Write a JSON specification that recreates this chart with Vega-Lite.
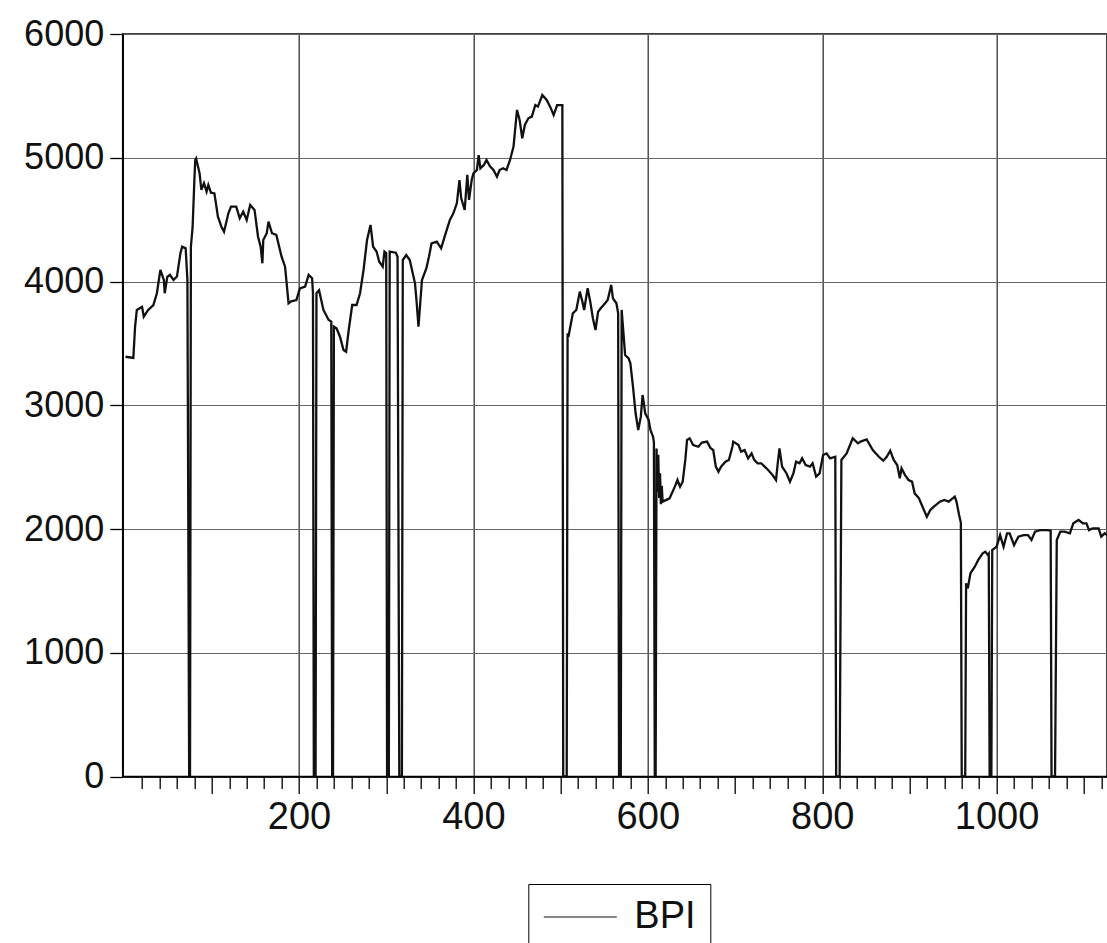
{
  "$schema": "https://vega.github.io/schema/vega-lite/v6.json",
  "width": 984.3,
  "height": 742.5,
  "autosize": {"type": "none"},
  "padding": {"left": 122.7, "top": 34, "right": 0, "bottom": 166.5},
  "background": "#ffffff",
  "config": {
    "view": {"stroke": "#000000", "strokeWidth": 1.5},
    "font": "Liberation Sans"
  },
  "data": {
    "values": [
      {"i": 1, "v": 3392}, {"i": 10, "v": 3382}, {"i": 12, "v": 3635}, {"i": 14, "v": 3770},
      {"i": 20, "v": 3796}, {"i": 22, "v": 3716}, {"i": 27, "v": 3770}, {"i": 33, "v": 3810},
      {"i": 37, "v": 3905}, {"i": 41, "v": 4093}, {"i": 45, "v": 4012}, {"i": 46, "v": 3905},
      {"i": 49, "v": 4039}, {"i": 52, "v": 4053}, {"i": 56, "v": 4012}, {"i": 60, "v": 4040},
      {"i": 64, "v": 4228}, {"i": 66, "v": 4281}, {"i": 70, "v": 4268}, {"i": 72, "v": 4012},
      {"i": 73, "v": 2100}, {"i": 74, "v": 0}, {"i": 75, "v": 0}, {"i": 76, "v": 4281},
      {"i": 78, "v": 4443}, {"i": 80, "v": 4820}, {"i": 81, "v": 4982}, {"i": 82, "v": 4995},
      {"i": 86, "v": 4874}, {"i": 88, "v": 4740}, {"i": 91, "v": 4794}, {"i": 94, "v": 4726},
      {"i": 96, "v": 4780}, {"i": 99, "v": 4718}, {"i": 103, "v": 4712}, {"i": 107, "v": 4524},
      {"i": 111, "v": 4443}, {"i": 114, "v": 4402}, {"i": 119, "v": 4551}, {"i": 122, "v": 4605},
      {"i": 128, "v": 4605}, {"i": 132, "v": 4511}, {"i": 136, "v": 4564}, {"i": 140, "v": 4497},
      {"i": 144, "v": 4618}, {"i": 149, "v": 4578}, {"i": 153, "v": 4362}, {"i": 156, "v": 4281},
      {"i": 158, "v": 4147}, {"i": 159, "v": 4335}, {"i": 163, "v": 4390}, {"i": 165, "v": 4484},
      {"i": 169, "v": 4390}, {"i": 174, "v": 4376}, {"i": 180, "v": 4200}, {"i": 184, "v": 4120},
      {"i": 188, "v": 3824}, {"i": 191, "v": 3840}, {"i": 197, "v": 3850}, {"i": 201, "v": 3945},
      {"i": 207, "v": 3958}, {"i": 211, "v": 4053}, {"i": 215, "v": 4026}, {"i": 216, "v": 3905},
      {"i": 217, "v": 0}, {"i": 219, "v": 0}, {"i": 220, "v": 3905}, {"i": 223, "v": 3930},
      {"i": 228, "v": 3770}, {"i": 234, "v": 3689}, {"i": 237, "v": 3676}, {"i": 238, "v": 0},
      {"i": 239, "v": 0}, {"i": 240, "v": 3635}, {"i": 243, "v": 3622}, {"i": 247, "v": 3554},
      {"i": 251, "v": 3447}, {"i": 254, "v": 3433}, {"i": 257, "v": 3608}, {"i": 261, "v": 3810},
      {"i": 266, "v": 3810}, {"i": 270, "v": 3905}, {"i": 274, "v": 4093}, {"i": 278, "v": 4335},
      {"i": 282, "v": 4457}, {"i": 285, "v": 4281}, {"i": 289, "v": 4241}, {"i": 292, "v": 4160},
      {"i": 296, "v": 4120}, {"i": 298, "v": 4241}, {"i": 300, "v": 4228}, {"i": 301, "v": 0},
      {"i": 303, "v": 0}, {"i": 304, "v": 4241}, {"i": 311, "v": 4233}, {"i": 313, "v": 4200},
      {"i": 315, "v": 0}, {"i": 318, "v": 0}, {"i": 319, "v": 4174}, {"i": 323, "v": 4214},
      {"i": 327, "v": 4174}, {"i": 333, "v": 3985}, {"i": 335, "v": 3824}, {"i": 337, "v": 3635},
      {"i": 339, "v": 3824}, {"i": 341, "v": 4012}, {"i": 346, "v": 4106}, {"i": 349, "v": 4200},
      {"i": 352, "v": 4308}, {"i": 358, "v": 4322}, {"i": 363, "v": 4268}, {"i": 367, "v": 4362},
      {"i": 373, "v": 4497}, {"i": 377, "v": 4551}, {"i": 381, "v": 4632}, {"i": 384, "v": 4820},
      {"i": 386, "v": 4672}, {"i": 390, "v": 4578}, {"i": 393, "v": 4861}, {"i": 395, "v": 4659},
      {"i": 398, "v": 4820}, {"i": 400, "v": 4874}, {"i": 404, "v": 4901}, {"i": 406, "v": 5022},
      {"i": 408, "v": 4915}, {"i": 412, "v": 4942}, {"i": 415, "v": 4982}, {"i": 419, "v": 4930},
      {"i": 423, "v": 4901}, {"i": 427, "v": 4847}, {"i": 430, "v": 4901}, {"i": 434, "v": 4915},
      {"i": 438, "v": 4901}, {"i": 442, "v": 4982}, {"i": 446, "v": 5090}, {"i": 450, "v": 5386},
      {"i": 453, "v": 5305}, {"i": 456, "v": 5157}, {"i": 459, "v": 5265}, {"i": 463, "v": 5319},
      {"i": 467, "v": 5332}, {"i": 471, "v": 5426}, {"i": 474, "v": 5413}, {"i": 479, "v": 5507},
      {"i": 484, "v": 5467}, {"i": 488, "v": 5413}, {"i": 492, "v": 5345}, {"i": 496, "v": 5426},
      {"i": 502, "v": 5426}, {"i": 503, "v": 0}, {"i": 507, "v": 0}, {"i": 508, "v": 3581},
      {"i": 509, "v": 3554}, {"i": 514, "v": 3743}, {"i": 518, "v": 3770}, {"i": 522, "v": 3918},
      {"i": 525, "v": 3837}, {"i": 527, "v": 3770}, {"i": 531, "v": 3945}, {"i": 534, "v": 3837},
      {"i": 537, "v": 3703}, {"i": 540, "v": 3608}, {"i": 543, "v": 3756}, {"i": 546, "v": 3783},
      {"i": 551, "v": 3824}, {"i": 554, "v": 3850}, {"i": 558, "v": 3972}, {"i": 560, "v": 3864},
      {"i": 564, "v": 3824}, {"i": 566, "v": 3743}, {"i": 567, "v": 0}, {"i": 569, "v": 0},
      {"i": 570, "v": 3770}, {"i": 574, "v": 3406}, {"i": 578, "v": 3379}, {"i": 580, "v": 3339},
      {"i": 583, "v": 3150}, {"i": 586, "v": 2935}, {"i": 589, "v": 2800}, {"i": 592, "v": 2908},
      {"i": 594, "v": 3083}, {"i": 596, "v": 2988}, {"i": 597, "v": 2935}, {"i": 601, "v": 2881},
      {"i": 603, "v": 2800}, {"i": 606, "v": 2746}, {"i": 607, "v": 2700}, {"i": 608, "v": 0},
      {"i": 609, "v": 0}, {"i": 610, "v": 2650}, {"i": 611, "v": 2300}, {"i": 612, "v": 2600},
      {"i": 613, "v": 2250}, {"i": 614, "v": 2450}, {"i": 615, "v": 2200}, {"i": 616, "v": 2350},
      {"i": 617, "v": 2221}, {"i": 625, "v": 2248}, {"i": 631, "v": 2342}, {"i": 634, "v": 2396},
      {"i": 637, "v": 2342}, {"i": 640, "v": 2382}, {"i": 643, "v": 2558}, {"i": 645, "v": 2719},
      {"i": 648, "v": 2733}, {"i": 652, "v": 2679}, {"i": 658, "v": 2665}, {"i": 662, "v": 2698},
      {"i": 668, "v": 2706}, {"i": 672, "v": 2652}, {"i": 675, "v": 2638}, {"i": 678, "v": 2504},
      {"i": 681, "v": 2463}, {"i": 684, "v": 2504}, {"i": 689, "v": 2544}, {"i": 693, "v": 2558},
      {"i": 697, "v": 2665}, {"i": 698, "v": 2706}, {"i": 704, "v": 2679}, {"i": 707, "v": 2625},
      {"i": 711, "v": 2638}, {"i": 715, "v": 2571}, {"i": 719, "v": 2611}, {"i": 722, "v": 2558},
      {"i": 726, "v": 2531}, {"i": 730, "v": 2531}, {"i": 734, "v": 2504}, {"i": 738, "v": 2477},
      {"i": 743, "v": 2436}, {"i": 747, "v": 2396}, {"i": 749, "v": 2531}, {"i": 751, "v": 2652},
      {"i": 754, "v": 2504}, {"i": 759, "v": 2450}, {"i": 763, "v": 2382}, {"i": 767, "v": 2450},
      {"i": 770, "v": 2544}, {"i": 774, "v": 2531}, {"i": 777, "v": 2571}, {"i": 781, "v": 2517},
      {"i": 786, "v": 2504}, {"i": 789, "v": 2531}, {"i": 793, "v": 2423}, {"i": 797, "v": 2450},
      {"i": 801, "v": 2598}, {"i": 805, "v": 2611}, {"i": 809, "v": 2571}, {"i": 815, "v": 2584},
      {"i": 816, "v": 0}, {"i": 820, "v": 0}, {"i": 822, "v": 2558}, {"i": 828, "v": 2611},
      {"i": 835, "v": 2733}, {"i": 841, "v": 2692}, {"i": 844, "v": 2706}, {"i": 851, "v": 2724},
      {"i": 858, "v": 2638}, {"i": 865, "v": 2584}, {"i": 870, "v": 2552}, {"i": 874, "v": 2584},
      {"i": 878, "v": 2633}, {"i": 882, "v": 2558}, {"i": 886, "v": 2517}, {"i": 889, "v": 2410},
      {"i": 891, "v": 2490}, {"i": 895, "v": 2436}, {"i": 899, "v": 2396}, {"i": 903, "v": 2383},
      {"i": 906, "v": 2288}, {"i": 911, "v": 2248}, {"i": 915, "v": 2180}, {"i": 920, "v": 2099},
      {"i": 924, "v": 2154}, {"i": 928, "v": 2180}, {"i": 935, "v": 2221}, {"i": 940, "v": 2234},
      {"i": 945, "v": 2221}, {"i": 952, "v": 2261}, {"i": 954, "v": 2221}, {"i": 957, "v": 2113},
      {"i": 959, "v": 2050}, {"i": 960, "v": 0}, {"i": 964, "v": 0}, {"i": 965, "v": 1561},
      {"i": 967, "v": 1520}, {"i": 970, "v": 1642}, {"i": 975, "v": 1695}, {"i": 979, "v": 1750},
      {"i": 984, "v": 1804}, {"i": 987, "v": 1817}, {"i": 990, "v": 1790}, {"i": 991, "v": 1800},
      {"i": 992, "v": 0}, {"i": 994, "v": 0}, {"i": 995, "v": 1830}, {"i": 1000, "v": 1857},
      {"i": 1004, "v": 1951}, {"i": 1008, "v": 1857}, {"i": 1012, "v": 1965}, {"i": 1015, "v": 1965},
      {"i": 1020, "v": 1870}, {"i": 1025, "v": 1938}, {"i": 1031, "v": 1951}, {"i": 1036, "v": 1951},
      {"i": 1040, "v": 1911}, {"i": 1044, "v": 1978}, {"i": 1050, "v": 1991}, {"i": 1058, "v": 1991},
      {"i": 1062, "v": 1986}, {"i": 1063, "v": 0}, {"i": 1067, "v": 0}, {"i": 1069, "v": 1911},
      {"i": 1073, "v": 1978}, {"i": 1078, "v": 1978}, {"i": 1084, "v": 1965}, {"i": 1088, "v": 2046},
      {"i": 1094, "v": 2073}, {"i": 1099, "v": 2046}, {"i": 1103, "v": 2046}, {"i": 1106, "v": 1991},
      {"i": 1110, "v": 2005}, {"i": 1117, "v": 2005}, {"i": 1120, "v": 1938}, {"i": 1124, "v": 1965},
      {"i": 1127, "v": 1950}
    ]
  },
  "mark": {"type": "line", "strokeWidth": 2.3, "clip": true},
  "encoding": {
    "x": {
      "field": "i",
      "type": "quantitative",
      "scale": {"domain": [-2.2, 1126.6], "nice": false, "zero": false},
      "axis": {
        "title": null,
        "values": [20, 40, 60, 80, 100, 120, 140, 160, 180, 200, 220, 240, 260, 280, 300, 320, 340, 360, 380, 400, 420, 440, 460, 480, 500, 520, 540, 560, 580, 600, 620, 640, 660, 680, 700, 720, 740, 760, 780, 800, 820, 840, 860, 880, 900, 920, 940, 960, 980, 1000, 1020, 1040, 1060, 1080, 1100, 1120],
        "format": "d",
        "grid": true,
        "gridColor": "#333333",
        "gridWidth": 1.3,
        "gridOpacity": {"condition": {"test": "datum.value % 200 === 0", "value": 1}, "value": 0},
        "tickSize": {"condition": {"test": "datum.value % 100 === 0", "value": 17}, "value": 12},
        "tickColor": "#000000",
        "tickWidth": 1.3,
        "domainColor": "#000000",
        "domainWidth": 1.5,
        "labelExpr": "datum.value % 200 === 0 ? datum.label : ''",
        "labelFont": "Liberation Sans",
        "labelFontSize": 38,
        "labelColor": "#111111",
        "labelPadding": 5,
        "labelFlush": false,
        "labelOverlap": false
      }
    },
    "y": {
      "field": "v",
      "type": "quantitative",
      "scale": {"domain": [0, 6000], "nice": false},
      "axis": {
        "title": null,
        "values": [0, 1000, 2000, 3000, 4000, 5000, 6000],
        "format": "d",
        "grid": true,
        "gridColor": "#666666",
        "gridWidth": 1.2,
        "tickSize": 13,
        "tickColor": "#000000",
        "tickWidth": 1.3,
        "domainColor": "#000000",
        "domainWidth": 1.5,
        "labelFont": "Liberation Sans",
        "labelFontSize": 36,
        "labelColor": "#111111",
        "labelPadding": 6,
        "labelFlush": false,
        "labelOverlap": false
      }
    },
    "color": {
      "datum": "BPI",
      "type": "nominal",
      "scale": {"range": ["#111111"]},
      "legend": {
        "orient": "none",
        "legendX": 405.6,
        "legendY": 850,
        "title": null,
        "strokeColor": "#000000",
        "fillColor": "#ffffff",
        "padding": 14,
        "symbolType": "M-3,0H3",
        "symbolSize": 592,
        "symbolStrokeWidth": 1.2,
        "symbolOffset": 19,
        "labelOffset": 35,
        "labelFont": "Liberation Sans",
        "labelFontSize": 38,
        "labelColor": "#111111"
      }
    }
  }
}
